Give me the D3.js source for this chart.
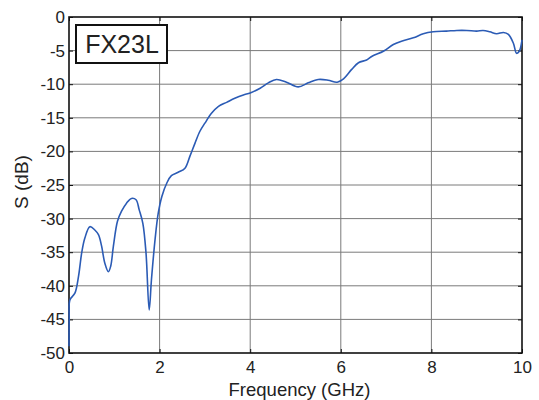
<!DOCTYPE html>
<html>
<head>
<meta charset="utf-8">
<script src="https://cdn.jsdelivr.net/npm/d3@7"></script>
<style>
  body { margin: 0; background: #fff; }
  text { font-family: "Liberation Sans", Arial, sans-serif; fill: #222; }
</style>
</head>
<body>
<div id="chart"></div>
<script>
// frequency (GHz) and S (dB)
var freq = [0, 0.005, 0.02, 0.13, 0.21, 0.28, 0.35, 0.46, 0.57, 0.65, 0.72, 0.79, 0.87, 0.92, 0.98,
  1.07, 1.16, 1.27, 1.38, 1.48, 1.55, 1.63, 1.70, 1.77, 1.82, 1.90, 1.97, 2.05, 2.16,
  2.26, 2.41, 2.56, 2.67, 2.78, 2.89, 3.0, 3.15, 3.30, 3.48, 3.66, 3.85, 4.0,
  4.22, 4.40, 4.58, 4.80, 5.06, 5.28, 5.50, 5.72, 5.92, 6.06, 6.24, 6.39, 6.57,
  6.70, 6.94, 7.16, 7.34, 7.60, 7.82, 8.04, 8.33, 8.56, 8.78, 9.0, 9.14, 9.29,
  9.44, 9.59, 9.70, 9.81, 9.88, 9.94, 10.0];
var sdb = [-49, -45, -42.1, -41.1, -38.6, -35.1, -32.9, -31.2, -31.7, -32.4, -34.1, -36.6, -37.9, -37.1, -34.1,
  -30.4, -28.9, -27.7, -27.0, -27.2, -28.7, -30.7, -35.1, -43.6, -39.1, -33.1, -29.2, -26.7, -24.7,
  -23.6, -23.1, -22.5, -20.7, -18.8, -17.0, -15.8, -14.3, -13.3, -12.7, -12.1, -11.6, -11.3,
  -10.6, -9.8, -9.3, -9.7, -10.4, -9.8, -9.3, -9.4, -9.7, -9.2, -7.8, -6.8, -6.4,
  -5.8, -5.1, -4.1, -3.6, -3.1, -2.5, -2.2, -2.1, -2.0, -2.0, -2.1, -2.0, -2.2,
  -2.5, -2.3, -2.6, -3.9, -5.4, -5.1, -3.4];
var xTicks = [0, 2, 4, 6, 8, 10];
var yTicks = [0, -5, -10, -15, -20, -25, -30, -35, -40, -45, -50];
var legendLabel = "FX23L";

var W = 539, H = 400;
var margin = {top: 17, right: 17, bottom: 47, left: 69};
var width = W - margin.left - margin.right,
    height = H - margin.top - margin.bottom;

var svg = d3.select("#chart").append("svg")
    .attr("width", W)
    .attr("height", H)
  .append("g")
    .attr("transform", "translate(" + margin.left + "," + margin.top + ")");

var x = d3.scaleLinear().domain([0, 10]).range([0, width]);
var y = d3.scaleLinear().domain([-50, 0]).range([height, 0]);

// grid
svg.append("g").selectAll("line")
  .data(xTicks.slice(1, -1))
  .enter().append("line")
    .attr("x1", function(d) { return x(d); })
    .attr("x2", function(d) { return x(d); })
    .attr("y1", 0).attr("y2", height)
    .attr("stroke", "#7a7a7a").attr("stroke-width", 1);
svg.append("g").selectAll("line")
  .data(yTicks.slice(1, -1))
  .enter().append("line")
    .attr("y1", function(d) { return y(d); })
    .attr("y2", function(d) { return y(d); })
    .attr("x1", 0).attr("x2", width)
    .attr("stroke", "#7a7a7a").attr("stroke-width", 1);

// axes with inward ticks, plain hyphen minus like the original
var fmt = function(d) { return String(d); };
var xAxis = svg.append("g")
  .attr("transform", "translate(0," + height + ")")
  .call(d3.axisBottom(x).tickValues(xTicks).tickSize(-4).tickPadding(8).tickFormat(fmt));
var yAxis = svg.append("g")
  .call(d3.axisLeft(y).tickValues(yTicks).tickSize(-4).tickPadding(4).tickFormat(fmt));
svg.append("g")
  .call(d3.axisRight(y).tickValues(yTicks).tickSize(-4).tickFormat(""))
  .attr("transform", "translate(" + width + ",0)");
svg.append("g")
  .call(d3.axisTop(x).tickValues(xTicks).tickSize(-4).tickFormat(""));

svg.selectAll(".domain").remove();
svg.selectAll(".tick line").attr("stroke", "#111");
xAxis.selectAll("text").attr("font-size", 17).style("fill", "#222");
yAxis.selectAll("text").attr("font-size", 17).style("fill", "#222");

// frame
svg.append("rect")
  .attr("width", width).attr("height", height)
  .attr("fill", "none").attr("stroke", "#111").attr("stroke-width", 1.6);

// curve
var pts = freq.map(function(f, i) { return [f, sdb[i]]; });
var line = d3.line()
  .x(function(d) { return x(d[0]); })
  .y(function(d) { return y(d[1]); })
  .curve(d3.curveCatmullRom.alpha(0.5));
svg.append("path")
  .datum(pts)
  .attr("d", line)
  .attr("fill", "none")
  .attr("stroke", "#2b5bb5")
  .attr("stroke-width", 1.6)
  .attr("stroke-linejoin", "round");

// legend box
svg.append("rect")
  .attr("x", 7).attr("y", 8)
  .attr("width", 91).attr("height", 38)
  .attr("fill", "#fff").attr("stroke", "#111").attr("stroke-width", 2);
svg.append("text")
  .attr("x", 53).attr("y", 36)
  .attr("text-anchor", "middle")
  .attr("font-size", 25)
  .text(legendLabel);

// axis labels
svg.append("text")
  .attr("x", width / 2 + 4).attr("y", height + 43)
  .attr("text-anchor", "middle")
  .attr("font-size", 18.5)
  .text("Frequency (GHz)");
svg.append("text")
  .attr("transform", "translate(" + (-41) + "," + (height / 2 - 3) + ") rotate(-90)")
  .attr("text-anchor", "middle")
  .attr("font-size", 19)
  .text("S (dB)");
</script>
</body>
</html>
